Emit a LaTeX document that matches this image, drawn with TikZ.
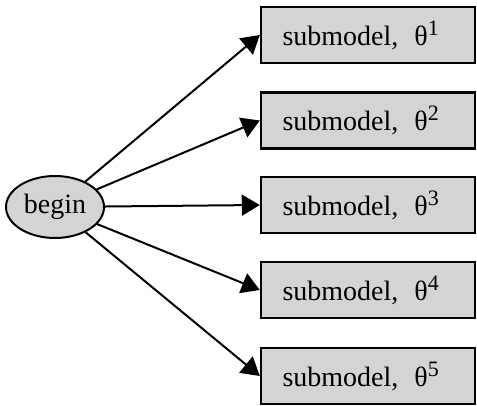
\documentclass[tikz,border=0pt]{standalone}
\usepackage{fontspec}
\setmainfont{Liberation Serif}
\usetikzlibrary{arrows.meta,shapes.geometric}
\newcommand{\subtext}[1]{submodel,\hspace{16pt}θ\raisebox{10pt}{\fontsize{22}{24}\selectfont #1}}
\begin{document}
\begin{tikzpicture}[x=1pt,y=-1pt,
  every node/.style={font=\fontsize{28}{32}\selectfont},
  startnode/.style={ellipse, draw, line width=2pt, fill=black!17,
    minimum width=98pt, minimum height=62pt, inner sep=0pt},
  subbox/.style={rectangle, draw, line width=2.4pt, fill=black!17,
    minimum width=214pt, minimum height=56pt, text width=171pt,
    align=left, inner xsep=21.5pt, inner ysep=0pt},
  link/.style={line width=2pt, -{Triangle[length=18pt,width=21pt]}}]
  \useasboundingbox (0,0) rectangle (477,406);
  \node[startnode] (b) at (55,207) {begin};
  \foreach \i/\y in {1/35,2/120.5,3/205,4/290,5/376} {
    \node[subbox] (s\i) at (368,\y) {\subtext{\i}};
    \draw[link] (b) -- (s\i.west);
  }
\end{tikzpicture}
\end{document}
